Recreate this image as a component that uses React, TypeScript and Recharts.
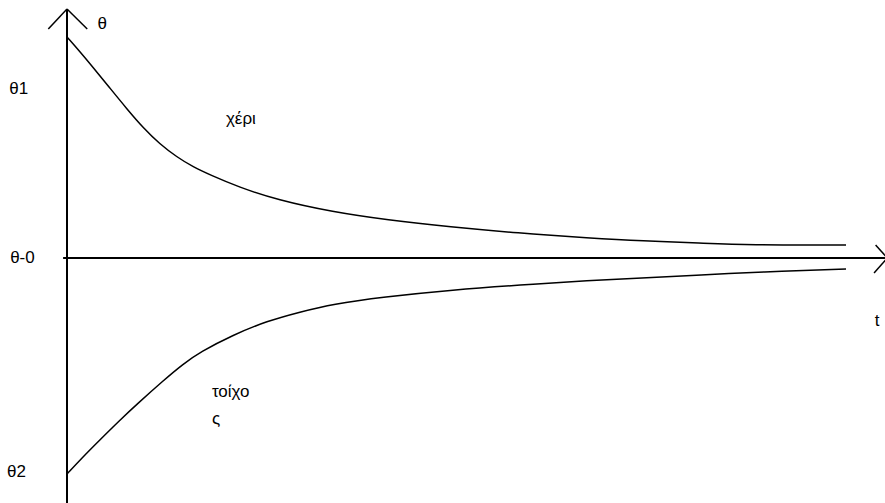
import React from 'react';
import { LineChart, Line, XAxis, YAxis, ReferenceLine, ReferenceDot } from 'recharts';

// upper curve (χέρι)
const upperT = [0, 0.17, 0.33, 0.55, 0.77, 0.98, 1.19, 1.41, 1.62, 1.84, 2.2, 2.7, 3.41, 4.11, 4.92, 5.78, 6.71, 7.39, 8.13, 8.74, 10];
const upperTheta = [221, 206, 191, 170, 149, 130, 114, 101, 91, 83, 71, 58, 46, 38, 31, 25, 20, 17, 15, 13, 13];

// lower curve (τοίχος)
const lowerT = [0, 0.19, 0.42, 0.68, 0.9, 1.23, 1.49, 1.71, 2.13, 2.57, 2.99, 3.41, 4.06, 4.92, 5.98, 7.06, 8.13, 8.9, 10];
const lowerTheta = [-216, -200, -182, -162, -146, -123, -106, -94, -77, -63, -54, -46, -39, -32, -26, -21, -17, -14, -11];

// text labels placed in data coordinates
const labelText = ['θ', 'θ1', 'χέρι', 'θ-0', 't', 'τοίχο', 'ς', 'θ2'];
const labelT = [0.39, -0.74, 2.04, -0.73, 10.37, 1.86, 1.86, -0.77];
const labelTheta = [229, 164, 134, -5, -68, -139, -166, -219];

const upperData = upperT.map((t, i) => ({ t, theta: upperTheta[i] }));
const lowerData = lowerT.map((t, i) => ({ t, theta: lowerTheta[i] }));

const ink = '#000';
const font = '"Liberation Sans", Arial, sans-serif';

const App: React.FC = () => {
  return (
    <div style={{ position: 'absolute', left: 0, top: 0, width: 885, height: 503, background: '#fff' }}>
      <LineChart width={885} height={503} margin={{ top: 9, right: 39, bottom: 0, left: 67 }}>
        <XAxis type="number" dataKey="t" domain={[0, 10]} hide allowDataOverflow />
        <YAxis type="number" dataKey="theta" domain={[-245, 249]} hide allowDataOverflow />

        {/* axes with arrow heads */}
        <ReferenceLine segment={[{ x: 0, y: 249 }, { x: 0, y: -245 }]} stroke={ink} strokeWidth={2} ifOverflow="visible" />
        <ReferenceLine segment={[{ x: -0.05, y: 0 }, { x: 10.5, y: 0 }]} stroke={ink} strokeWidth={2} ifOverflow="visible" />
        <ReferenceLine segment={[{ x: -0.24, y: 229 }, { x: 0, y: 249 }]} stroke={ink} strokeWidth={1.5} ifOverflow="visible" />
        <ReferenceLine segment={[{ x: 0.26, y: 229 }, { x: 0, y: 249 }]} stroke={ink} strokeWidth={1.5} ifOverflow="visible" />
        <ReferenceLine segment={[{ x: 10.38, y: 13 }, { x: 10.53, y: 0 }]} stroke={ink} strokeWidth={1.5} ifOverflow="visible" />
        <ReferenceLine segment={[{ x: 10.36, y: -15 }, { x: 10.53, y: 0 }]} stroke={ink} strokeWidth={1.5} ifOverflow="visible" />

        <Line data={upperData} dataKey="theta" type="basis" stroke={ink} strokeWidth={1.5} dot={false} isAnimationActive={false} />
        <Line data={lowerData} dataKey="theta" type="basis" stroke={ink} strokeWidth={1.5} dot={false} isAnimationActive={false} />

        {labelText.map((txt, i) => (
          <ReferenceDot
            key={txt + i}
            x={labelT[i]}
            y={labelTheta[i]}
            r={0}
            ifOverflow="visible"
            shape={(p: any) => (
              <text x={p.cx} y={p.cy} fill={ink} fontSize={17} fontFamily={font} textAnchor="start">
                {txt}
              </text>
            )}
          />
        ))}
      </LineChart>
    </div>
  );
};

export default App;
